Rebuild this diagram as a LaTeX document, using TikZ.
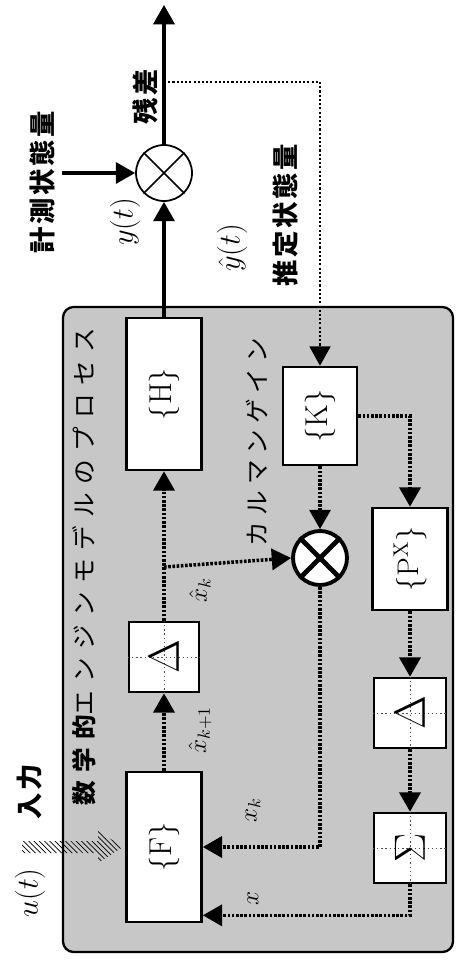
\documentclass[tikz,border=0pt]{standalone}
\usepackage{fontspec}
\usepackage{graphicx}
\newfontfamily\jpfont{Noto Sans CJK JP}
\usetikzlibrary{arrows.meta,patterns}
\newcommand\rt[1]{\rotatebox{90}{#1}}
\newcommand\fsz[1]{\fontsize{#1}{#1}\selectfont}
\begin{document}
\begin{tikzpicture}[x=0.02cm,y=-0.02cm,
  tip/.style={-{Triangle[length=11pt,width=12pt]}},
  solidline/.style={line width=1.8pt, tip},
  dotline/.style={line width=2pt, dash pattern=on 1.5pt off 0.9pt, tip},
  thindot/.style={line width=0.9pt, dash pattern=on 1.2pt off 1.2pt, tip},
  blockbox/.style={draw, line width=1.5pt, fill=white, inner sep=0pt},
  txt/.style={inner sep=0pt},
  cross/.style={draw=black!70, line width=0.4pt, dash pattern=on 0.8pt off 1.6pt}]
\useasboundingbox (0,0) rectangle (457,960);
% outer process box
\draw[line width=1.3pt, fill=black!22, rounded corners=6pt] (63,307) rectangle (453,952);
% nodes
\node[draw, circle, line width=1pt, fill=white, minimum size=1.12cm, inner sep=0pt] (oc) at (164,173) {};
\node[blockbox, minimum width=1.5cm, minimum height=3.04cm] (H) at (164,394) {\rt{\fsz{18pt}$\{\mathrm{H}\}$}};
\node[blockbox, minimum width=1.4cm, minimum height=1.4cm] (D1) at (164,657) {};
\node[blockbox, minimum width=1.5cm, minimum height=3.0cm] (F) at (164,847) {\rt{\fsz{18pt}$\{\mathrm{F}\}$}};
\node[blockbox, minimum width=1.48cm, minimum height=1.96cm] (K) at (320,416) {\rt{\fsz{18pt}$\{\mathrm{K}\}$}};
\node[draw, circle, line width=2.2pt, fill=white, minimum size=1.08cm, inner sep=0pt] (ox) at (320,558) {};
\node[blockbox, minimum width=1.5cm, minimum height=2.04cm] (P) at (410,559) {\rt{\fsz{17pt}$\{\mathrm{P}^{\mathrm{X}}\}$}};
\node[blockbox, minimum width=1.44cm, minimum height=1.4cm] (D2) at (410,713) {};
\node[blockbox, minimum width=1.44cm, minimum height=1.4cm] (S) at (410,848) {};
% crosshairs and symbols
\foreach \n in {D1,D2,S}{
  \draw[cross] (\n.north) -- (\n.south);
  \draw[cross] (\n.west) -- (\n.east);
}
\node[txt] (d1t) at (D1.center) {\rt{\fsz{25pt}$\Delta$}};
\node[txt] (d2t) at (D2.center) {\rt{\fsz{25pt}$\Delta$}};
\node[txt] (st) at (S.center) {\rt{\fsz{24pt}$\Sigma$}};
% circle crosses
\draw[line width=1pt] (oc.north west) -- (oc.south east);
\draw[line width=1pt] (oc.north east) -- (oc.south west);
\draw[line width=2.8pt] (ox.north west) -- (ox.south east);
\draw[line width=2.8pt] (ox.north east) -- (ox.south west);
% coordinates
\coordinate (top) at (164,5);
\coordinate (meas) at (62,173);
\coordinate (res) at (164,82);
\coordinate (j1) at (164,567);
% connectors
\draw[solidline] (oc.north) -- (top);
\draw[solidline] (meas) -- (oc.west);
\draw[solidline] (H.north) -- (oc.south);
\draw[thindot] (res) -| (K.north);
\draw[dotline] (D1.north) -- (H.south);
\draw[dotline] (F.north) -- (D1.south);
\draw[dotline] (j1) -- (ox.west);
\draw[dotline] (K.south) -- (ox.north);
\draw[dotline] (K.east) -| (P.north);
\draw[dotline] (P.south) -- (D2.north);
\draw[dotline] (D2.south) -- (S.north);
\draw[dotline] (S.south) |- ([yshift=0.16cm]F.south east);
\draw[dotline] (ox.south) |- (F.east);
% hatched input arrow
\fill[pattern=north west lines] (22,841) -- (98,841) -- (98,831) -- (123,847) -- (98,863) -- (98,853) -- (22,853) -- cycle;
% labels
\node[txt] (l1) at (42,182) {\rt{\jpfont\bfseries\fsz{15pt}\addfontfeatures{LetterSpace=10}計測状態量}};
\node[txt] (l2) at (145,97) {\rt{\jpfont\bfseries\fsz{15pt}\addfontfeatures{LetterSpace=10}残差}};
\node[txt] (l3) at (125,222) {\rt{\fsz{17pt}$y(t)$}};
\node[txt] (l4) at (232,248) {\rt{\fsz{17pt}$\hat{y}(t)$}};
\node[txt] (l5) at (285,215) {\rt{\jpfont\bfseries\fsz{15pt}\addfontfeatures{LetterSpace=10}推定状態量}};
\node[txt] (l6) at (84,567) {\rt{\jpfont\fsz{14pt}\addfontfeatures{LetterSpace=34}{\bfseries 数学的}エンジンモデルのプロセス}};
\node[txt] (l7) at (257,442) {\rt{\jpfont\fsz{14pt}\addfontfeatures{LetterSpace=25}カルマンゲイン}};
\node[txt] (l8) at (200,590) {\rt{\fsz{14pt}$\hat{x}_k$}};
\node[txt] (l9) at (200,730) {\rt{\fsz{14pt}$\hat{x}_{k+1}$}};
\node[txt] (l10) at (253,810) {\rt{\fsz{14pt}$x_k$}};
\node[txt] (l11) at (253,898) {\rt{\fsz{14pt}$x$}};
\node[txt] (l12) at (30,792) {\rt{\jpfont\bfseries\fsz{15pt}\addfontfeatures{LetterSpace=10}入力}};
\node[txt] (l13) at (30,893) {\rt{\fsz{17pt}$u(t)$}};
\end{tikzpicture}
\end{document}
